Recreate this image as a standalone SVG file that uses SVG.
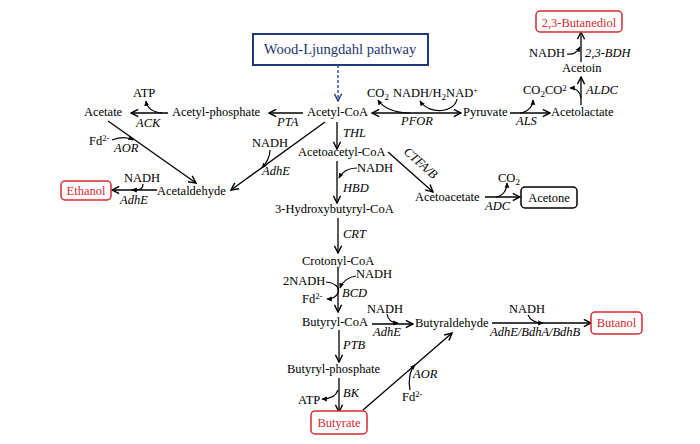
<svg xmlns="http://www.w3.org/2000/svg" width="700" height="444" viewBox="0 0 700 444" font-family="'Liberation Serif', 'Times New Roman', serif">
<defs>
<marker id="a" viewBox="0 0 10 10" refX="9" refY="5" markerWidth="9" markerHeight="9" markerUnits="userSpaceOnUse" orient="auto-start-reverse"><path d="M1,1 L9,5 L1,9" fill="none" stroke="#000" stroke-width="1.6"/></marker>
<marker id="n" viewBox="0 0 10 10" refX="9" refY="5" markerWidth="9" markerHeight="9" markerUnits="userSpaceOnUse" orient="auto"><path d="M1,1 L9,5 L1,9" fill="none" stroke="#1f3a7a" stroke-width="1.6"/></marker>
<marker id="s" viewBox="0 0 10 10" refX="8" refY="5" markerWidth="6" markerHeight="6" markerUnits="userSpaceOnUse" orient="auto"><path d="M0,1 L9,5 L0,9 Z" fill="#000"/></marker>
<style>
text{font-family:'Liberation Serif','Times New Roman',serif;font-size:12.5px;fill:#000}
.e{font-style:italic}
.r{fill:#d42a2f}
.c{text-anchor:middle}
.ln{fill:none;stroke:#000;stroke-width:1.3;marker-end:url(#a)}
.cv{fill:none;stroke:#000;stroke-width:1.2;marker-end:url(#s)}
.rb{fill:#fff;stroke:#d42a2f;stroke-width:1.5}
.kb{fill:#fff;stroke:#000;stroke-width:1.5}
</style>
</defs>
<rect width="700" height="444" fill="#fff"/>
<g id="connectors">
<path d="M338,65 V101" fill="none" stroke="#1f3a7a" stroke-width="1.3" stroke-dasharray="3,2" marker-end="url(#n)"/>
<path class="ln" d="M372,113 H461" marker-start="url(#a)"/>
<path class="cv" d="M410,113 C395,113 383,108 378,100"/>
<path class="cv" d="M457,99 C455,112 430,116 420,101"/>
<path class="ln" d="M510,113 H550"/>
<path class="cv" d="M520,113 C528,112 533,106 533,100"/>
<path class="ln" d="M581,105 V77"/>
<path class="cv" d="M581,98 C580,92 576,88 570,88"/>
<path class="ln" d="M581,62 V32"/>
<path class="cv" d="M567,54 C574,55 577,52 580,47"/>
<path class="ln" d="M303,113 H269"/>
<path class="ln" d="M168,113 H131"/>
<path class="cv" d="M162,113 C152,112 147,108 146,101"/>
<path class="ln" d="M108,121 L196,183"/>
<path class="cv" d="M112,140 C120,137 128,137 133,140"/>
<path class="ln" d="M157,190 H112"/>
<path class="cv" d="M143,184 C143,190 138,190 132,190"/>
<path class="ln" d="M325,122 L231,190"/>
<path class="cv" d="M270,150 C270,158 266,163 262,168"/>
<path class="ln" d="M337,122 V149"/>
<path class="ln" d="M337,161 V203"/>
<path class="cv" d="M357,168 C348,168 342,172 339,178"/>
<path class="ln" d="M388,152 L433,192"/>
<path class="ln" d="M485,197 H520"/>
<path class="cv" d="M496,197 C503,196 507,190 507,183"/>
<path class="ln" d="M338,218 V253"/>
<path class="ln" d="M338,268 V312"/>
<path class="cv" d="M326,282 C336,283 340,288 338,293 C336,297 332,299 327,299"/>
<path class="cv" d="M356,276 C348,277 342,282 340,288"/>
<path class="ln" d="M372,324 H413"/>
<path class="cv" d="M387,314 C388,320 392,323 398,323"/>
<path class="ln" d="M492,323 H591"/>
<path class="cv" d="M528,315 C530,320 536,323 543,323"/>
<path class="ln" d="M339,330 V362"/>
<path class="ln" d="M339,378 V412"/>
<path class="cv" d="M338,390 C336,396 330,399 322,399"/>
<path class="ln" d="M363,410 L452,333"/>
<path class="cv" d="M410,390 C408,380 410,370 415,365"/>
</g>
<g id="wood-ljungdahl"><rect x="253" y="34" width="175" height="31" fill="#fff" stroke="#1f3a7a" stroke-width="2"/><text x="340" y="54" class="c" style="font-size:14.6px;fill:#1f3570">Wood-Ljungdahl pathway</text></g>
<g id="butanediol"><rect x="536" y="11" width="86" height="21" rx="4" class="rb"/><text x="579" y="26.5" class="c r">2,3-Butanediol</text></g>
<g id="bdh"><text x="529" y="57">NADH</text><text x="585" y="57" class="e">2,3-BDH</text></g>
<g id="acetoin"><text x="562" y="72">Acetoin</text></g>
<g id="aldc"><text x="523" y="94">CO<tspan dy="3" font-size="9">2</tspan><tspan dy="-3">CO</tspan><tspan dy="-3" font-size="9">2</tspan></text><text x="586" y="94" class="e">ALDC</text></g>
<g id="acetolactate"><text x="551" y="116">Acetolactate</text></g>
<g id="als"><text x="516" y="125" class="e">ALS</text></g>
<g id="pyruvate"><text x="463" y="116">Pyruvate</text></g>
<g id="pfor"><text x="401" y="125" class="e">PFOR</text><text x="367" y="97">CO<tspan dy="3" font-size="9">2</tspan></text><text x="393" y="97">NADH/H<tspan dy="3" font-size="9">2</tspan><tspan dy="-3">NAD</tspan><tspan dy="-4" font-size="8">+</tspan></text></g>
<g id="acetyl-coa"><text x="307" y="116">Acetyl-CoA</text></g>
<g id="acetyl-phosphate"><text x="172" y="116">Acetyl-phosphate</text><text x="277" y="126" class="e">PTA</text></g>
<g id="acetate"><text x="84" y="116">Acetate</text><text x="133" y="97">ATP</text><text x="136" y="127" class="e">ACK</text></g>
<g id="aor1"><text x="89" y="145">Fd<tspan dy="-4" font-size="8.5">2-</tspan></text><text x="114" y="152" class="e">AOR</text></g>
<g id="ethanol"><rect x="61" y="181" width="50" height="19" rx="4" class="rb"/><text x="86" y="194.5" class="c r">Ethanol</text><text x="124" y="182">NADH</text><text x="120" y="204" class="e">AdhE</text></g>
<g id="acetaldehyde"><text x="157" y="195">Acetaldehyde</text><text x="252" y="147">NADH</text><text x="262" y="175" class="e">AdhE</text></g>
<g id="acetoacetyl-coa"><text x="343" y="137" class="e">THL</text><text x="298" y="156">Acetoacetyl-CoA</text></g>
<g id="hbd"><text x="357" y="172">NADH</text><text x="343" y="192" class="e">HBD</text></g>
<g id="ctfab"><text x="0" y="0" class="e c" transform="translate(418,166) rotate(41.6)">CTFA/B</text></g>
<g id="acetoacetate"><text x="415" y="201">Acetoacetate</text><text x="498" y="182">CO<tspan dy="3" font-size="9">2</tspan></text><text x="485" y="210" class="e">ADC</text></g>
<g id="acetone"><rect x="521" y="187" width="56" height="21" rx="4" class="kb"/><text x="549" y="202" class="c">Acetone</text></g>
<g id="hydroxybutyryl-coa"><text x="275" y="213">3-Hydroxybutyryl-CoA</text><text x="343" y="238" class="e">CRT</text></g>
<g id="crotonyl-coa"><text x="302" y="265">Crotonyl-CoA</text></g>
<g id="bcd"><text x="283" y="285">2NADH</text><text x="356" y="278">NADH</text><text x="342" y="297" class="e">BCD</text><text x="302" y="303">Fd<tspan dy="-4" font-size="8.5">2-</tspan></text></g>
<g id="butyryl-coa"><text x="302" y="326">Butyryl-CoA</text><text x="367" y="313">NADH</text><text x="373" y="336" class="e">AdhE</text></g>
<g id="butyraldehyde"><text x="415" y="327">Butyraldehyde</text><text x="509" y="313">NADH</text><text x="490" y="336" class="e">AdhE/BdhA/BdhB</text></g>
<g id="butanol"><rect x="591" y="312" width="51" height="22" rx="4" class="rb"/><text x="616.5" y="327" class="c r">Butanol</text></g>
<g id="butyryl-phosphate"><text x="343" y="349" class="e">PTB</text><text x="287" y="373">Butyryl-phosphate</text><text x="343" y="397" class="e">BK</text><text x="298" y="404">ATP</text></g>
<g id="butyrate"><rect x="311" y="411" width="56" height="23" rx="4" class="rb"/><text x="339" y="427" class="c r">Butyrate</text></g>
<g id="aor2"><text x="413" y="378" class="e">AOR</text><text x="402" y="401">Fd<tspan dy="-4" font-size="8.5">2-</tspan></text></g>
</svg>
